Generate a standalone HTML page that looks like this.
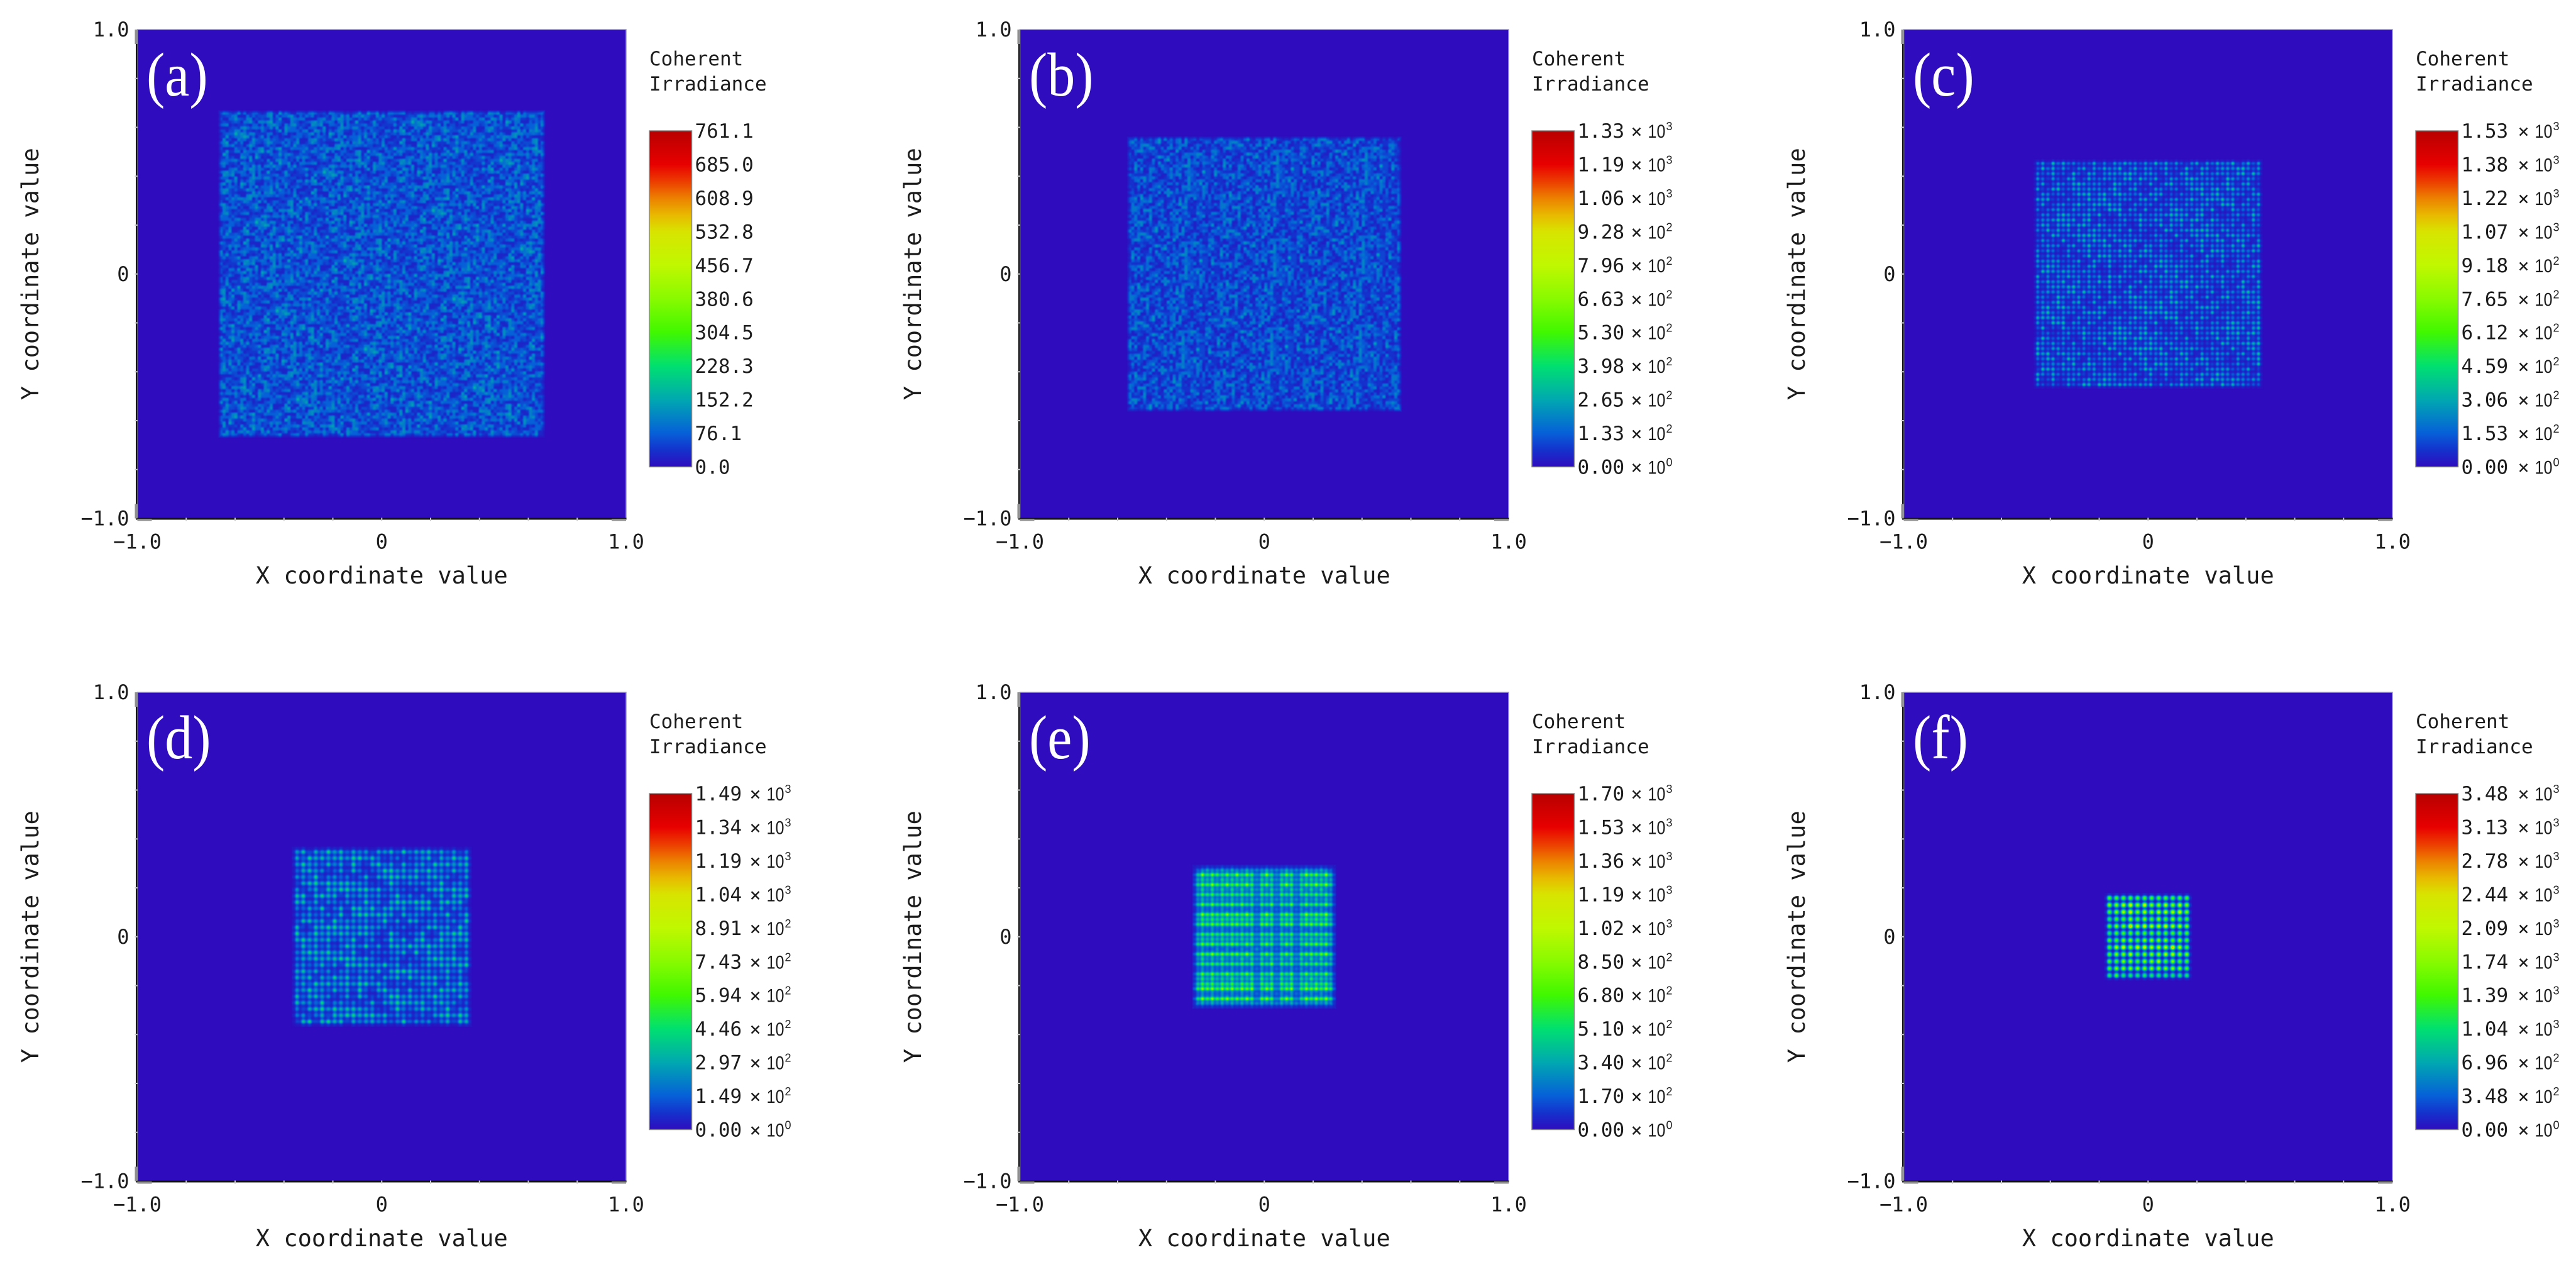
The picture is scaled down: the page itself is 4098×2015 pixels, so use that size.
<!DOCTYPE html>
<html lang="en">
<head>
<meta charset="utf-8">
<title>Coherent irradiance maps</title>
<style>
html,body{margin:0;padding:0;background:#fff;}
#page{position:relative;width:4098px;height:2015px;overflow:hidden;background:#fff;}
#chart{position:absolute;left:0;top:0;}
canvas{position:absolute;display:block;}
</style>
</head>
<body>
<div id="page">
<svg id="chart" width="4098" height="2015" viewBox="0 0 4098 2015" xmlns="http://www.w3.org/2000/svg"></svg>
</div>
<script>
// ---- Chart values (speckle digits are estimated texture) ----
const panelLetters = ["(a)", "(b)", "(c)", "(d)", "(e)", "(f)"];
const xTickValues = [-1, 0, 1];
const xTickLabels = ["\u22121.0", "0", "1.0"];
const yTickValues = [-1, 0, 1];
const yTickLabels = ["\u22121.0", "0", "1.0"];
const minorTickValues = [-0.8, -0.6, -0.4, -0.2, 0, 0.2, 0.4, 0.6, 0.8];
const xAxisTitle = "X coordinate value";
const yAxisTitle = "Y coordinate value";
const legendTitle = ["Coherent", "Irradiance"];

const colorbarMaxes = [761.1, 1330, 1530, 1490, 1700, 3480];
const colorbarLabelsA = ["761.1", "685.0", "608.9", "532.8", "456.7", "380.6", "304.5", "228.3", "152.2", "76.1", "0.0"];
const colorbarMantissasB = ["1.33", "1.19", "1.06", "9.28", "7.96", "6.63", "5.30", "3.98", "2.65", "1.33", "0.00"];
const colorbarExponentsB = ["3", "3", "3", "2", "2", "2", "2", "2", "2", "2", "0"];
const colorbarMantissasC = ["1.53", "1.38", "1.22", "1.07", "9.18", "7.65", "6.12", "4.59", "3.06", "1.53", "0.00"];
const colorbarExponentsC = ["3", "3", "3", "3", "2", "2", "2", "2", "2", "2", "0"];
const colorbarMantissasD = ["1.49", "1.34", "1.19", "1.04", "8.91", "7.43", "5.94", "4.46", "2.97", "1.49", "0.00"];
const colorbarExponentsD = ["3", "3", "3", "3", "2", "2", "2", "2", "2", "2", "0"];
const colorbarMantissasE = ["1.70", "1.53", "1.36", "1.19", "1.02", "8.50", "6.80", "5.10", "3.40", "1.70", "0.00"];
const colorbarExponentsE = ["3", "3", "3", "3", "3", "2", "2", "2", "2", "2", "0"];
const colorbarMantissasF = ["3.48", "3.13", "2.78", "2.44", "2.09", "1.74", "1.39", "1.04", "6.96", "3.48", "0.00"];
const colorbarExponentsF = ["3", "3", "3", "3", "3", "3", "3", "3", "2", "2", "0"];

// half-width of the illuminated square, in axis units
const squareHalfWidths = [0.664, 0.557, 0.463, 0.36, 0.284, 0.173];
// cells per side of the square
const cellsPerSide = [110, 92, 44, 28, 28, 12];
// irradiance per digit in each panel's level grid, plus a pedestal
const irradiancePerDigit = [17, 28, 50, 55, 100, 300];
const irradiancePedestal = [25, 35, 0, 0, 0, 0];

// fine speckle levels, panels a and b
const speckleLevels = [
"213042150312604123017251304216",
"102351240263105234120342160251",
"340126032141023506213051420312",
"152403125060231412503162034127",
"021340271315024120346012513204",
"314052103240162301251430621035",
"203165024113520240316205134021",
"410232150426013142057123024316",
"132504213061240315102341560213",
"025140362013521406231250314102",
"341062150241306125140372103251",
"120435012315042213601254120346",
"253014206341250130427015233104",
"014325110452036214130526101423",
"302150643102145023512041362015",
"135240210361024150263104725120",
"420613152043126304015231042316",
"013248021350413125160342105234",
"251301640215230416203150264103",
"104523013162504120351207314250",
"326014251034127305142061230415",
"041250362113045216031425013162",
"213506102451320140526310241035",
"150324017230416253104162305214",
"402153260142051324072413015203",
"031462105324160214350120436125",
"214035132061253041216350102341",
"350121460213014526103241250316",
"123604215310426013250142037120",
"042315103262140135412306215043"
];
// lattice levels, panel c
const latticeLevelsC = [
"4357263546273548263745",
"6243752634572436527463",
"3562748352641735462857",
"5274635263875263546274",
"2648357462536472835462",
"7352468253746352674538",
"4635274638254763528463",
"3746582735463287465237",
"5263746352874536274653",
"6482537264635274586324",
"2753648356274638527463",
"4637258463528746352684",
"3526874635274563748256",
"7463526748352647536283",
"5284637526463857264735",
"2637485362748526374652",
"6453728463527364852637",
"3758264736485273646528",
"4826375284637452837465",
"5364826537462685374263",
"2745368427536483627548",
"6382547365248736452736"
];
// lattice levels, panel d
const latticeLevelsD = [
"56473856274638574625",
"47385627465382746357",
"68254736582647385264",
"35746285374652836475",
"74638526473857462538",
"26574838265473685274",
"58362745683527463852",
"63748526374658263746",
"47265837462837546382",
"85374628537462685347",
"36482573648527364758",
"74528637485263748526",
"52637468253746582637",
"68374526738452637485",
"47526384657382647536",
"36847526374685273648",
"75263847526374836527",
"48375264837526478365",
"56284736527483652748",
"37465285364726385472"
];
// lattice levels, panel e
const latticeLevelsE = [
"2343343433433343334333433432",
"5968768696873696368736978695",
"4545354545453545354535454544",
"6879779787973786379736879796",
"3535353535353535353535353533",
"5767576767673767376736767675",
"3434343434343434343433434343",
"5868677868673768376836867685",
"2323232323232323232323232322",
"5978779787973797378736978795",
"4656565656563656365635656564",
"6878787887873887378837887886",
"2323232323232323232323232322",
"5767676767673767376736767675",
"4545454545453545354535454544",
"6878677876873787368736878785",
"2322323223233323232323232322",
"6879787887973787378737887896",
"3534353435353535353535353534",
"5767676767673768376736767675",
"2323232323232323232323232322",
"5868678767873768376836867685",
"4646454645463645364635464544",
"5767576757673767376736757675",
"7989798979893798378937989797",
"2323232323232323232323232322",
"6979789787973897379736979796",
"3434343434343434343433434343"
];
// spot levels, panel f
const spotLevelsF = [
"555555555555",
"667868667676",
"567867677786",
"455656565655",
"566978778776",
"455555555555",
"556656666565",
"578688777975",
"566756667766",
"556656675655",
"566666666665",
"454444444444"
];
// ---- End of values ----

const levelGrids = [speckleLevels, speckleLevels, latticeLevelsC, latticeLevelsD, latticeLevelsE, spotLevelsF];
const colorbarTexts = [null,
  [colorbarMantissasB, colorbarExponentsB],
  [colorbarMantissasC, colorbarExponentsC],
  [colorbarMantissasD, colorbarExponentsD],
  [colorbarMantissasE, colorbarExponentsE],
  [colorbarMantissasF, colorbarExponentsF]];

// Layout and styling
const NS = "http://www.w3.org/2000/svg";
const svg = document.getElementById("chart");
const page = document.getElementById("page");
const plotLeft = 218.5, plotTop = 47, plotSize = 777.5;
const colLayout = [0, 1404, 2810];
const rowLayout = [0, 1054];
const cbLeft = 1033, cbWidth = 67.5, cbTop = 208, cbHeight = 534.5;
const sciShift = [0, 0, 5, 2, 0, 5];
const latticeFloor = [1, 1, 0.35, 0.42, 0.60, 0.20];
const edgeFuzz = [3, 3, 3, 4, 5, 3];
// wrap-around stride when a level grid is tiled, so repeats do not line up
const gridStride = [[7, 11], [11, 7], [5, 7], [9, 13], [1, 1], [1, 1]];
const MONO = '"DejaVu Sans Mono", "Liberation Mono", monospace';
const BG = [47, 12, 190];
const colormap = [
  [0.00, 47, 12, 190], [0.05, 20, 50, 205], [0.10, 6, 96, 216], [0.20, 0, 168, 176],
  [0.30, 0, 224, 112], [0.40, 64, 248, 0], [0.50, 136, 250, 0], [0.60, 192, 248, 0],
  [0.70, 216, 228, 0], [0.75, 232, 184, 0], [0.80, 236, 128, 0], [0.85, 236, 60, 0],
  [0.90, 232, 0, 0], [1.00, 184, 0, 0]
];

function colorAt(t) {
  if (t <= 0) return BG;
  if (t >= 1) return [184, 0, 0];
  for (let i = 1; i < colormap.length; i++) {
    if (t <= colormap[i][0]) {
      const a = colormap[i - 1], b = colormap[i], f = (t - a[0]) / (b[0] - a[0]);
      return [a[1] + (b[1] - a[1]) * f, a[2] + (b[2] - a[2]) * f, a[3] + (b[3] - a[3]) * f];
    }
  }
  return [184, 0, 0];
}
function xScale(v) { return plotLeft + (v + 1) / 2 * plotSize; }
function yScale(v) { return plotTop + (1 - v) / 2 * plotSize; }
function colorbarScale(value, max) { return cbTop + (1 - value / max) * cbHeight; }
function svgNode(tag, attrs, parent) {
  const n = document.createElementNS(NS, tag);
  for (const k in attrs) n.setAttribute(k, attrs[k]);
  (parent || svg).appendChild(n);
  return n;
}
function smooth(t) { return t * t * (3 - 2 * t); }
function clampIndex(i, n) { return i < 0 ? 0 : (i >= n ? n - 1 : i); }

function drawHeatmap(idx, ox, oy) {
  const grid = levelGrids[idx];
  const ext = squareHalfWidths[idx];
  const cells = cellsPerSide[idx];
  const step = irradiancePerDigit[idx];
  const pedestal = irradiancePedestal[idx];
  const max = colorbarMaxes[idx];
  const floorV = latticeFloor[idx];
  const stride = gridStride[idx];
  const c = document.createElement("canvas");
  
  
  const w = Math.round(plotSize);
  c.width = w; c.height = w;
  c.style.left = (plotLeft + ox) + "px";
  c.style.top = (plotTop + oy) + "px";
  c.style.width = plotSize + "px";
  c.style.height = plotSize + "px";
  const ctx = c.getContext("2d");
  ctx.fillStyle = "rgb(" + BG.join(",") + ")";
  ctx.fillRect(0, 0, w, w);
  const rows = grid.length, cols = grid[0].length;
  function level(r, q) {
    const r1 = clampIndex(r, cells), q1 = clampIndex(q, cells);
    // successive tile repeats are slid against each other to hide the period
    const rr = (r1 * stride[1] + 7 * Math.floor(q1 / cols)) % rows;
    const qq = (q1 * stride[0] + 11 * Math.floor(r1 / rows)) % cols;
    return grid[rr].charCodeAt(qq) - 48;
  }
  const x0 = Math.floor(xScale(-ext) - plotLeft) - 7, x1 = Math.ceil(xScale(ext) - plotLeft) + 7;
  const y0 = Math.floor(yScale(ext) - plotTop) - 7, y1 = Math.ceil(yScale(-ext) - plotTop) + 7;
  const img = ctx.createImageData(x1 - x0, y1 - y0);
  const pxPerCell = (xScale(ext) - xScale(-ext)) / cells;
  const fuzz = edgeFuzz[idx];
  for (let py = y0; py < y1; py++) {
    const vCell = (py + 0.5 - (yScale(ext) - plotTop)) / pxPerCell;
    for (let px = x0; px < x1; px++) {
      const uCell = (px + 0.5 - (xScale(-ext) - plotLeft)) / pxPerCell;
      const su = uCell - 0.5, sv = vCell - 0.5;
      const q0 = Math.floor(su), r0 = Math.floor(sv);
      const fu = smooth(su - q0), fv = smooth(sv - r0);
      const top = level(r0, q0) * (1 - fu) + level(r0, q0 + 1) * fu;
      const bot = level(r0 + 1, q0) * (1 - fu) + level(r0 + 1, q0 + 1) * fu;
      let val = (top * (1 - fv) + bot * fv) * step + pedestal;
      if (floorV < 1) {
        const sx = Math.sin(Math.PI * (uCell - Math.floor(uCell)));
        const sy = Math.sin(Math.PI * (vCell - Math.floor(vCell)));
        val *= (floorV + (1 - floorV) * sx * sx) * (floorV + (1 - floorV) * sy * sy);
      }
      const edge = Math.min(uCell, cells - uCell, vCell, cells - vCell) * pxPerCell;
      const fade = Math.max(0, Math.min(1, (edge + fuzz) / (2 * fuzz)));
      const col = colorAt(val * fade / max);
      const o = ((py - y0) * (x1 - x0) + (px - x0)) * 4;
      img.data[o] = col[0]; img.data[o + 1] = col[1]; img.data[o + 2] = col[2]; img.data[o + 3] = 255;
    }
  }
  ctx.putImageData(img, x0, y0);
  page.insertBefore(c, svg);
}

function drawAxes(idx, g) {
  const frame = svgNode("rect", {x: plotLeft, y: plotTop, width: plotSize, height: plotSize, fill: "none", stroke: "#9a98b8", "stroke-width": 1.5}, g);
  
  
  const yAxisLine = svgNode("rect", {x: plotLeft - 2.5, y: plotTop, width: 2.5, height: plotSize + 1, fill: "#141414"}, g);
  
  
  const xAxisLine = svgNode("rect", {x: plotLeft - 2.5, y: plotTop + plotSize - 1, width: plotSize + 3, height: 3, fill: "#141414"}, g);
  
  
  minorTickValues.forEach(function (v) {
    const tx = svgNode("rect", {x: xScale(v) - 1, y: plotTop + plotSize - 1, width: 2, height: 5, fill: "#c9c9c9"}, g);
    
    
    const ty = svgNode("rect", {x: plotLeft - 4, y: yScale(v) - 1, width: 4, height: 2, fill: "#c9c9c9"}, g);
    
    
  });
  xTickValues.forEach(function (v, i) {
    if (v !== 0) {
      const mark = svgNode("rect", {x: v < 0 ? xScale(v) : xScale(v) - 23, y: plotTop + plotSize + 0.5, width: 23, height: 3.5, fill: "#8f8f8f"}, g);
      
      
    }
    const t = svgNode("text", {x: xScale(v), y: plotTop + plotSize + 48, "text-anchor": "middle", "font-size": 32, "font-family": MONO, fill: "#1c1c1c"}, g);
    t.textContent = xTickLabels[i];
    
    
  });
  yTickValues.forEach(function (v, i) {
    if (v !== 0) {
      const mark = svgNode("rect", {x: plotLeft - 4, y: v > 0 ? yScale(v) : yScale(v) - 23, width: 4, height: 23, fill: "#8f8f8f"}, g);
      
      
    }
    const t = svgNode("text", {x: plotLeft - 13, y: yScale(v) + 11, "text-anchor": "end", "font-size": 32, "font-family": MONO, fill: "#1c1c1c"}, g);
    t.textContent = yTickLabels[i];
    
    
  });
  const xTitle = svgNode("text", {x: xScale(0), y: 928, "text-anchor": "middle", "font-size": 37, "font-family": MONO, fill: "#1c1c1c"}, g);
  xTitle.textContent = xAxisTitle;
  
  
  const yTitle = svgNode("text", {x: 0, y: 0, transform: "translate(61 " + yScale(0) + ") rotate(-90)", "text-anchor": "middle", "font-size": 37, "font-family": MONO, fill: "#1c1c1c"}, g);
  yTitle.textContent = yAxisTitle;
  
  
  const letter = svgNode("text", {x: 0, y: 0, transform: "translate(233 152) scale(1 1.12)", "font-size": 88, "font-family": '"Liberation Serif", serif', fill: "#ffffff"}, g);
  letter.textContent = panelLetters[idx];
  
  
}

function drawColorbar(idx, g, pid) {
  const max = colorbarMaxes[idx];
  legendTitle.forEach(function (line, i) {
    const t = svgNode("text", {x: cbLeft, y: 104 + i * 40, "font-size": 31, "font-family": MONO, fill: "#1c1c1c"}, g);
    t.textContent = line;
    
    
  });
  const defs = svgNode("defs", {}, g);
  const grad = svgNode("linearGradient", {id: "cb" + pid, x1: 0, y1: 1, x2: 0, y2: 0}, defs);
  colormap.forEach(function (s) {
    svgNode("stop", {offset: s[0], "stop-color": "rgb(" + s[1] + "," + s[2] + "," + s[3] + ")"}, grad);
  });
  const bar = svgNode("rect", {x: cbLeft, y: cbTop, width: cbWidth, height: cbHeight, fill: "url(#cb" + pid + ")", stroke: "#8a8a8a", "stroke-width": 1.5}, g);
  
  
  const rx = cbLeft + cbWidth + 5;
  for (let i = 0; i <= 10; i++) {
    const yc = colorbarScale(max * (1 - i / 10), max);
    const label = svgNode("text", {x: rx, y: yc + 11, "font-size": 31, "font-family": MONO, fill: "#1c1c1c"}, g);
    
    
    if (idx === 0) {
      label.textContent = colorbarLabelsA[i];
    } else {
      const sh = sciShift[idx];
      const pair = colorbarTexts[idx];
      svgNode("tspan", {}, label).textContent = pair[0][i];
      const times = svgNode("tspan", {x: rx + 85 + sh, "font-size": 30}, label);
      times.textContent = "\u00d7";
      const ten = svgNode("tspan", {x: rx + 112 + sh, "font-family": '"Liberation Sans", sans-serif', "font-size": 30, textLength: 28, lengthAdjust: "spacingAndGlyphs"}, label);
      ten.textContent = "10";
      const sup = svgNode("tspan", {x: rx + 141 + sh, dy: -12, "font-family": '"Liberation Sans", sans-serif', "font-size": 18}, label);
      sup.textContent = pair[1][i];
    }
  }
}

panelLetters.forEach(function (name, idx) {
  const ox = colLayout[idx % 3];
  const oy = rowLayout[Math.floor(idx / 3)];
  const pid = "abcdef"[idx];
  drawHeatmap(idx, ox, oy);
  const g = svgNode("g", {transform: "translate(" + ox + " " + oy + ")"});
  
  
  drawAxes(idx, g);
  drawColorbar(idx, g, pid);
});
</script>
</body>
</html>
